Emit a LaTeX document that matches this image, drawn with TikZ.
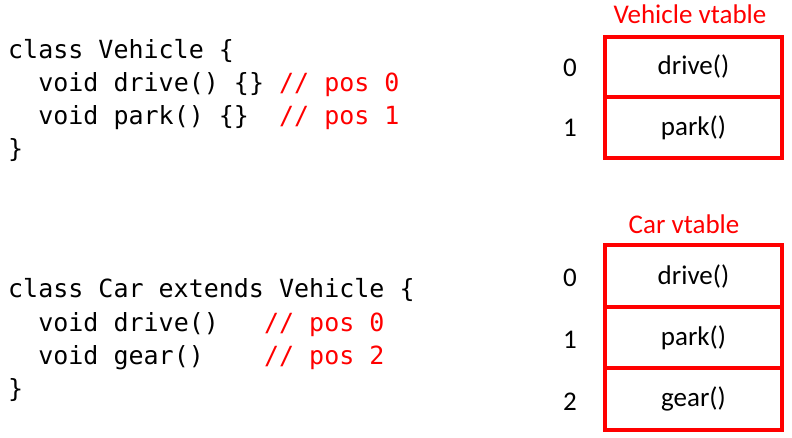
\documentclass[tikz,border=0pt]{standalone}
\usepackage{fontspec}
\setmainfont{Carlito}
\newfontfamily\codefont{DejaVu Sans Mono}
\definecolor{vred}{RGB}{255,0,0}
\tikzset{
  codeline/.style={anchor=base west, inner sep=0pt, font=\codefont\fontsize{25}{30}\selectfont},
  cell/.style={draw=vred, line width=4pt, minimum width=177pt, inner sep=0pt, outer sep=0pt, font=\fontsize{27}{32}\selectfont},
  idx/.style={inner sep=0pt, font=\fontsize{27}{32}\selectfont},
  ttl/.style={inner sep=0pt, text=vred, font=\fontsize{27}{32}\selectfont}
}
\newcommand{\cmt}[1]{\textcolor{vred}{#1}}
\begin{document}
\begin{tikzpicture}[x=1pt,y=-1pt]
\useasboundingbox (0,0) rectangle (792,438);
% Vehicle code
\node[codeline] (v1) at (8,59) {class Vehicle \{};
\node[codeline] (v2) at (8,92) {\phantom{xx}void drive() \{\} \cmt{// pos 0}};
\node[codeline] (v3) at (8,125) {\phantom{xx}void park() \{\}\ \ \cmt{// pos 1}};
\node[codeline] (v4) at (8,158) {\}};
% Car code
\node[codeline] (c1) at (8,298) {class Car extends Vehicle \{};
\node[codeline] (c2) at (8,331) {\phantom{xx}void drive()\ \ \ \cmt{// pos 0}};
\node[codeline] (c3) at (8,364) {\phantom{xx}void gear()\ \ \ \ \cmt{// pos 2}};
\node[codeline] (c4) at (8,397) {\}};
% Vehicle vtable
\node[ttl] (vt) at (690,14) {Vehicle vtable};
\node[cell, minimum height=60.5pt] (vd) at (693.5,67) {drive()};
\node[cell, minimum height=60.5pt] (vp) at (693.5,127.5) {park()};
\node[idx] (vi0) at (570,68) {0};
\node[idx] (vi1) at (570,128) {1};
% Car vtable
\node[ttl] (ct) at (684,224) {Car vtable};
\node[cell, minimum height=61.5pt] (cd) at (693.5,276) {drive()};
\node[cell, minimum height=61.5pt] (cp) at (693.5,337.5) {park()};
\node[cell, minimum height=61.5pt] (cg) at (693.5,399) {gear()};
\node[idx] (ci0) at (570,278) {0};
\node[idx] (ci1) at (570,340) {1};
\node[idx] (ci2) at (570,402) {2};
\end{tikzpicture}
\end{document}
